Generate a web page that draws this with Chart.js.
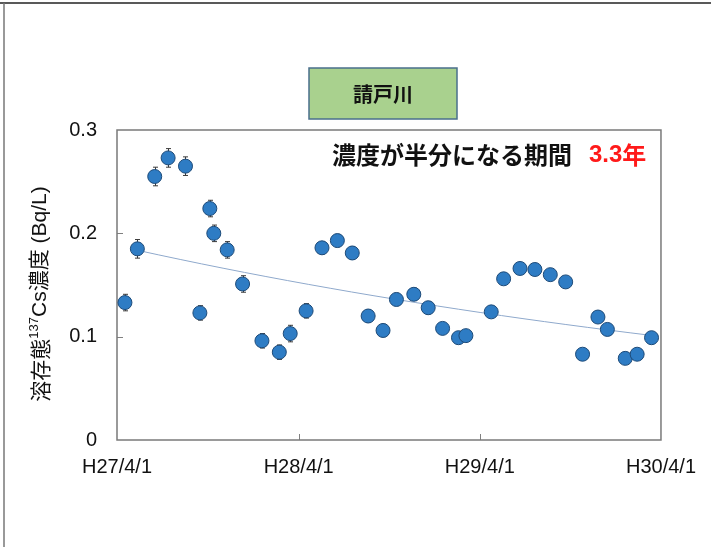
<!DOCTYPE html>
<html>
<head>
<meta charset="utf-8">
<script src="https://cdn.jsdelivr.net/npm/chart.js@4/dist/chart.umd.min.js"></script>
<style>
  html, body { margin: 0; padding: 0; background: #ffffff; }
  #wrap { position: relative; width: 711px; height: 547px; }
  canvas { display: block; }
</style>
</head>
<body>
<div id="wrap"><canvas id="c" width="711" height="547"></canvas></div>
<script>
// Sampling dates (請戸川) and dissolved 137Cs concentrations in Bq/L
const sampleDates = ['2015-04-17','2015-05-12','2015-06-16','2015-07-13','2015-08-17','2015-09-15','2015-10-05','2015-10-13','2015-11-09','2015-12-10',
  '2016-01-18','2016-02-22','2016-03-15','2016-04-16','2016-05-18','2016-06-18','2016-07-18','2016-08-19','2016-09-18','2016-10-15','2016-11-19','2016-12-18',
  '2017-01-16','2017-02-17','2017-03-04','2017-04-24','2017-05-19','2017-06-21','2017-07-21','2017-08-21','2017-09-21','2017-10-25','2017-11-25','2017-12-14',
  '2018-01-19','2018-02-12','2018-03-13'];
const concentrations = [0.133,0.185,0.255,0.273,0.265,0.123,0.224,0.200,0.184,0.151,
  0.096,0.085,0.103,0.125,0.186,0.193,0.181,0.120,0.106,0.136,0.141,0.128,
  0.108,0.099,0.101,0.124,0.156,0.166,0.165,0.160,0.153,0.083,0.119,0.107,
  0.079,0.083,0.099];
const uncertainties = [0.008,0.009,0.009,0.009,0.009,0.007,0.008,0.008,0.008,0.008,
  0.007,0.007,0.008,0.007,0.006,0.006,0.006,0.006,0.006,0.006,0.006,0.006,
  0.005,0.005,0.005,0.005,0.005,0.005,0.005,0.005,0.005,0.005,0.005,0.005,
  0.005,0.005,0.005];

// Axis ticks
const tickDates = ['2015-04-01','2016-04-01','2017-04-01','2018-04-01'];
const tickLabels = ['H27/4/1','H28/4/1','H29/4/1','H30/4/1'];
const yTicks = [0, 0.1, 0.2, 0.3];

// Exponential fit: concentration halves every 3.3 years
const halfLifeYears = 3.3;
const fitInitial = 0.188;        // Bq/L at H27/4/1
const fitRange = ['2015-05-12', '2018-03-13'];

const DAY = 86400000;
const origin = Date.parse(tickDates[0]);
const toDay = s => (Date.parse(s) - origin) / DAY;

const points = sampleDates.map((d, i) => ({ x: toDay(d), y: concentrations[i], e: uncertainties[i] }));
const tickDays = tickDates.map(toDay);

const fitPoints = [];
{
  const a = toDay(fitRange[0]), b = toDay(fitRange[1]);
  const n = 24;
  for (let k = 0; k <= n; k++) {
    const x = a + (b - a) * k / n;
    fitPoints.push({ x, y: fitInitial * Math.pow(0.5, (x / 365.25) / halfLifeYears) });
  }
}

const LATIN = '"Liberation Sans", Arial, sans-serif';
const JP = '"Noto Sans CJK JP", sans-serif';

const decorations = {
  id: 'decorations',
  beforeDatasetsDraw(chart) {
    const { ctx, chartArea: a, scales: { x, y } } = chart;
    ctx.save();
    // inward tick marks
    ctx.strokeStyle = '#808080';
    ctx.lineWidth = 1;
    yTicks.slice(1, -1).forEach(v => {
      const py = Math.round(y.getPixelForValue(v)) + 0.5;
      ctx.beginPath(); ctx.moveTo(a.left, py); ctx.lineTo(a.left + 6, py); ctx.stroke();
    });
    tickDays.slice(1, -1).forEach(v => {
      const px = Math.round(x.getPixelForValue(v)) + 0.5;
      ctx.beginPath(); ctx.moveTo(px, a.bottom); ctx.lineTo(px, a.bottom - 6); ctx.stroke();
    });
    // plot frame
    ctx.strokeStyle = '#7a7a7a';
    ctx.lineWidth = 1.5;
    ctx.strokeRect(a.left, a.top, a.right - a.left, a.bottom - a.top);
    // error bars
    ctx.strokeStyle = '#3a3a3a';
    ctx.lineWidth = 1;
    points.forEach(p => {
      const px = Math.round(x.getPixelForValue(p.x)) + 0.5;
      const y1 = y.getPixelForValue(p.y + p.e), y2 = y.getPixelForValue(p.y - p.e);
      ctx.beginPath();
      ctx.moveTo(px, y1); ctx.lineTo(px, y2);
      ctx.moveTo(px - 2.5, y1); ctx.lineTo(px + 2.5, y1);
      ctx.moveTo(px - 2.5, y2); ctx.lineTo(px + 2.5, y2);
      ctx.stroke();
    });
    ctx.restore();
  },
  afterDraw(chart) {
    const { ctx } = chart;
    ctx.save();
    // outer page frame
    ctx.strokeStyle = '#222222';
    ctx.lineWidth = 1.5;
    ctx.beginPath(); ctx.moveTo(0, 3); ctx.lineTo(711, 3); ctx.stroke();
    ctx.strokeStyle = '#777777';
    ctx.beginPath(); ctx.moveTo(4, 3); ctx.lineTo(4, 547); ctx.stroke();

    // river name box
    ctx.fillStyle = '#a9d18e';
    ctx.fillRect(309, 68, 148, 51);
    ctx.strokeStyle = '#4a6f8c';
    ctx.lineWidth = 1.5;
    ctx.strokeRect(309, 68, 148, 51);
    ctx.fillStyle = '#111111';
    ctx.font = 'bold 20px ' + JP;
    ctx.textAlign = 'center';
    ctx.textBaseline = 'middle';
    ctx.fillText('請戸川', 383, 94);

    // half-life annotation
    ctx.textAlign = 'left';
    ctx.font = 'bold 24px ' + JP;
    ctx.fillStyle = '#111111';
    ctx.fillText('濃度が半分になる期間', 332, 155);
    ctx.fillStyle = '#ff1a1a';
    ctx.font = 'bold 24px ' + LATIN;
    const num = halfLifeYears.toFixed(1);
    ctx.fillText(num, 589, 155);
    const w = ctx.measureText(num).width;
    ctx.font = 'bold 24px ' + JP;
    ctx.fillText('年', 589 + w, 155);

    // y axis title with superscript mass number
    ctx.translate(40, 294);
    ctx.rotate(-Math.PI / 2);
    ctx.fillStyle = '#111111';
    ctx.textBaseline = 'middle';
    const parts = [
      { t: '溶存態', f: '21px ' + JP, dy: 0 },
      { t: '137', f: '13px ' + LATIN, dy: -6 },
      { t: 'Cs濃度 (Bq/L)', f: '21px ' + LATIN + ', ' + JP, dy: 0 }
    ];
    let total = 0;
    parts.forEach(p => { ctx.font = p.f; p.w = ctx.measureText(p.t).width; total += p.w; });
    let cx = -total / 2;
    parts.forEach(p => { ctx.font = p.f; ctx.fillText(p.t, cx, p.dy); cx += p.w; });
    ctx.restore();
  }
};

new Chart(document.getElementById('c'), {
  data: {
    datasets: [
      {
        type: 'line',
        data: fitPoints,
        borderColor: '#8fa9cc',
        borderWidth: 1,
        pointRadius: 0,
        fill: false,
        tension: 0,
        order: 2
      },
      {
        type: 'scatter',
        data: points,
        backgroundColor: '#2e7cc4',
        borderColor: '#1d4a78',
        borderWidth: 1,
        pointRadius: 7,
        order: 1
      }
    ]
  },
  options: {
    responsive: false,
    animation: false,
    layout: { padding: { top: 130, right: 48, left: 0, bottom: 0 } },
    plugins: { legend: { display: false }, tooltip: { enabled: false } },
    scales: {
      x: {
        type: 'linear',
        min: tickDays[0],
        max: tickDays[tickDays.length - 1],
        grid: { display: false, drawTicks: false },
        border: { display: false },
        afterBuildTicks: s => { s.ticks = tickDays.map(v => ({ value: v })); },
        afterFit: s => { s.height = 107; },
        ticks: {
          autoSkip: false,
          maxRotation: 0,
          padding: 15,
          color: '#111111',
          font: { family: LATIN, size: 20 },
          callback: (v) => tickLabels[tickDays.indexOf(v)]
        }
      },
      y: {
        min: 0,
        max: 0.3,
        grid: { display: false, drawTicks: false },
        border: { display: false },
        afterBuildTicks: s => { s.ticks = yTicks.map(v => ({ value: v })); },
        afterFit: s => { s.width = 117; },
        ticks: {
          padding: 20,
          color: '#111111',
          font: { family: LATIN, size: 20 },
          callback: v => String(+v.toFixed(1))
        }
      }
    }
  },
  plugins: [decorations]
});
</script>
</body>
</html>
